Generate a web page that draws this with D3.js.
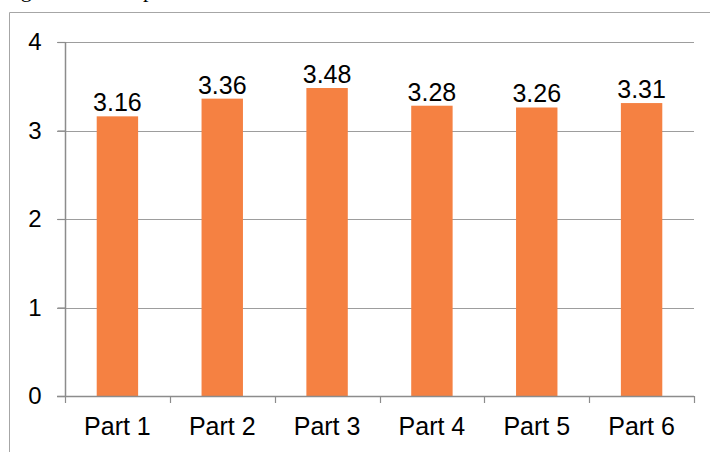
<!DOCTYPE html>
<html>
<head>
<meta charset="utf-8">
<script src="https://cdnjs.cloudflare.com/ajax/libs/d3/7.8.5/d3.min.js"></script>
<style>
  html, body { margin: 0; padding: 0; background: #ffffff; }
  svg { display: block; }
</style>
</head>
<body>
<script>
// Mean score for each part of the questionnaire
const categories = ["Part 1", "Part 2", "Part 3", "Part 4", "Part 5", "Part 6"];
const values = [3.16, 3.36, 3.48, 3.28, 3.26, 3.31];
const yTicks = [0, 1, 2, 3, 4];

const W = 710, H = 452;
const plot = { left: 65, right: 694, top: 42, bottom: 396 };

const svg = d3.select("body").append("svg")
  .attr("width", W).attr("height", H);

// caption line sitting just above the chart frame; only its descenders fall inside the view
svg.append("text")
  .attr("x", 2.5).attr("y", -3)
  .attr("font-family", "Liberation Serif, Times New Roman, serif")
  .attr("font-size", 22)
  .attr("fill", "#000")
  .text("Figure 1. Mean points");

// chart frame
svg.append("path")
  .attr("d", `M9.5,${H} V12.5 H${W}`)
  .attr("fill", "none")
  .attr("stroke", "#a6a6a6")
  .attr("stroke-width", 1);

const x = d3.scaleBand().domain(categories).range([plot.left, plot.right]).padding(0);
const y = d3.scaleLinear().domain([0, 4]).range([plot.bottom, plot.top]);

const gridColor = "#9d9d9d";
const axisColor = "#8c8c8c";

// horizontal gridlines with left tick marks
svg.append("g").selectAll("line")
  .data(yTicks.filter(d => d > 0))
  .join("line")
  .attr("x1", plot.left - 8).attr("x2", plot.right)
  .attr("y1", d => Math.round(y(d)) + 0.5).attr("y2", d => Math.round(y(d)) + 0.5)
  .attr("stroke", gridColor).attr("stroke-width", 1.2);

// y axis
const yAxis = d3.axisLeft(y).tickValues(yTicks).tickSize(8).tickPadding(16).tickFormat(d3.format("d"));
const gy = svg.append("g").attr("transform", `translate(${plot.left + 0.5},0)`).call(yAxis);
gy.select(".domain").attr("stroke", axisColor).attr("stroke-width", 1.5).attr("d", `M0,${plot.bottom}V${plot.top}`);
gy.selectAll(".tick line").attr("stroke", axisColor).attr("stroke-width", 1.2);
gy.selectAll(".tick text")
  .attr("font-family", "Liberation Sans, Arial, sans-serif")
  .attr("font-size", 24).attr("fill", "#000");

// bars
const barW = x.bandwidth() * 0.395;
svg.append("g").selectAll("rect")
  .data(values)
  .join("rect")
  .attr("x", (d, i) => x(categories[i]) + (x.bandwidth() - barW) / 2)
  .attr("y", d => y(d))
  .attr("width", barW)
  .attr("height", d => y(0) - y(d))
  .attr("fill", "#f58142");

// value labels
svg.append("g").selectAll("text")
  .data(values)
  .join("text")
  .attr("x", (d, i) => x(categories[i]) + x.bandwidth() / 2)
  .attr("y", d => y(d) - 5)
  .attr("text-anchor", "middle")
  .attr("font-family", "Liberation Sans, Arial, sans-serif")
  .attr("font-size", 25)
  .attr("fill", "#000")
  .text(d => d.toFixed(2));

// x axis with ticks at category boundaries
svg.append("line")
  .attr("x1", plot.left - 8).attr("x2", plot.right)
  .attr("y1", plot.bottom + 0.5).attr("y2", plot.bottom + 0.5)
  .attr("stroke", axisColor).attr("stroke-width", 1.5);

const bounds = categories.map(c => x(c)).concat([x(categories[categories.length - 1]) + x.bandwidth()]);
svg.append("g").selectAll("line")
  .data(bounds)
  .join("line")
  .attr("x1", d => Math.round(d) + 0.5).attr("x2", d => Math.round(d) + 0.5)
  .attr("y1", plot.bottom).attr("y2", plot.bottom + 7)
  .attr("stroke", axisColor).attr("stroke-width", 1.2);

svg.append("g").selectAll("text")
  .data(categories)
  .join("text")
  .attr("x", d => x(d) + x.bandwidth() / 2)
  .attr("y", 435)
  .attr("text-anchor", "middle")
  .attr("font-family", "Liberation Sans, Arial, sans-serif")
  .attr("font-size", 25)
  .attr("fill", "#000")
  .text(d => d);
</script>
</body>
</html>
